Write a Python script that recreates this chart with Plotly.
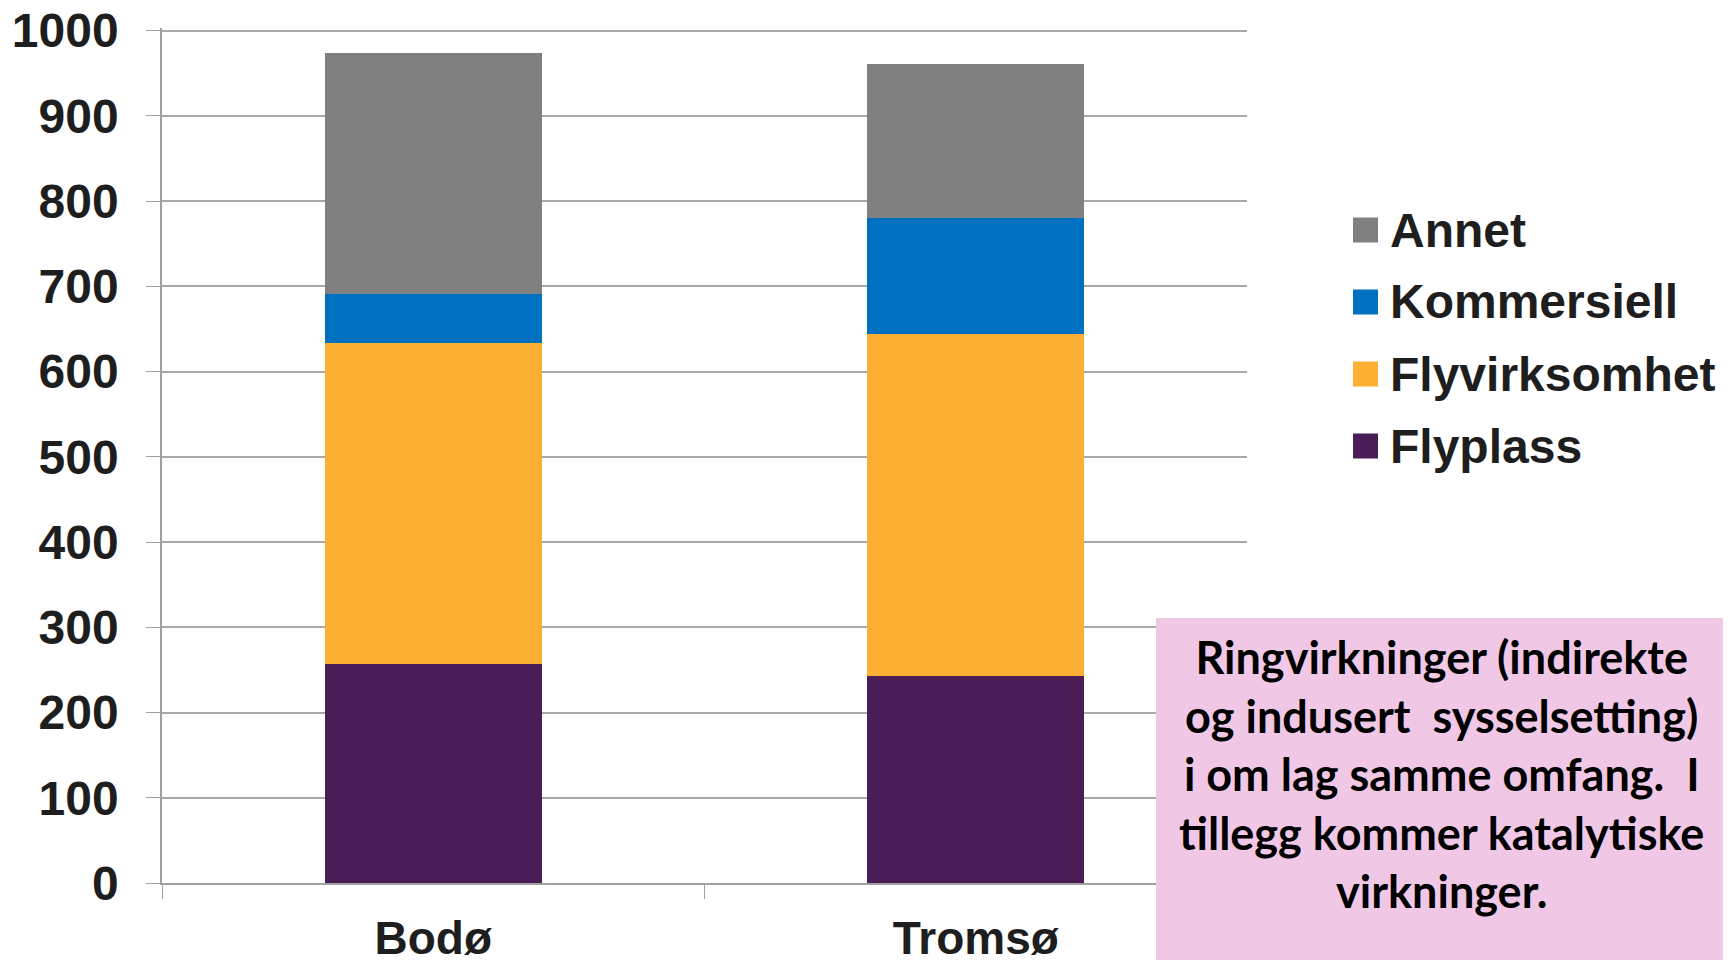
import plotly.graph_objects as go

categories = ["Bodø", "Tromsø"]
flyplass = [257, 243]
flyvirksomhet = [376, 401]
kommersiell = [58, 136]
annet = [283, 181]
y_ticks = [0, 100, 200, 300, 400, 500, 600, 700, 800, 900, 1000]

series = [
    ("Flyplass", flyplass, "#4A1D57"),
    ("Flyvirksomhet", flyvirksomhet, "#FBB034"),
    ("Kommersiell", kommersiell, "#0070C0"),
    ("Annet", annet, "#808080"),
]

OFF = 8  # page body margin
W, H = 1731 - OFF, 960 - OFF
YMAX = 1003
L, T = 162 - OFF, 28 - OFF
R = W - (1247 - OFF)
B = H - (883 - OFF)
PW, PH = W - L - R, H - T - B

def px(x):
    return (x - OFF - L) / PW

def py(y):
    return (H - B - (y - OFF)) / PH

fig = go.Figure()
for name, vals, col in series:
    fig.add_trace(go.Bar(x=categories, y=vals, name=name, showlegend=False,
                         marker=dict(color=col, line=dict(width=0))))

fig.update_layout(
    width=W, height=H,
    barmode="stack", bargap=0.6,
    plot_bgcolor="white", paper_bgcolor="white",
    margin=dict(l=L, r=R, t=T, b=B),
    font=dict(family="Liberation Sans", color="#1e1e1e"),
    xaxis=dict(showline=True, linecolor="#A0A0A0", linewidth=1.5, automargin=False,
               ticks="outside", tickson="boundaries", ticklen=14, tickcolor="#A0A0A0",
               tickvals=categories, ticktext=[f"<b>{c}</b>" for c in categories],
               tickfont=dict(size=46, family="Liberation Sans"), showgrid=False,
               ticklabelstandoff=14, ticklabeloverflow="allow"),
    yaxis=dict(range=[0, YMAX], tickvals=y_ticks, ticktext=[f"<b>{v}</b>" for v in y_ticks],
               showline=True, linecolor="#A0A0A0", automargin=False,
               linewidth=1.5, ticks="outside", ticklen=14, tickcolor="#A0A0A0",
               gridcolor="#A8A8A8", gridwidth=1.5, zeroline=False,
               tickfont=dict(size=48, family="Liberation Sans"), ticklabelstandoff=18,
               ticklabeloverflow="allow"),
)

# legend (drawn manually to match large swatches)
legend_y = [230, 302, 374, 446]
for (name, vals, col), yc in zip(reversed(series), legend_y):
    fig.add_shape(type="rect", xref="paper", yref="paper",
                  x0=px(1353), x1=px(1378), y0=py(yc + 12.5), y1=py(yc - 12.5),
                  fillcolor=col, line=dict(width=0))
    fig.add_annotation(xref="paper", yref="paper", x=px(1388), y=py(yc),
                       xanchor="left", yanchor="middle", showarrow=False,
                       text=f"<b>{name}</b>",
                       font=dict(size=48, family="Liberation Sans", color="#1e1e1e"))

fig.add_shape(type="rect", xref="paper", yref="paper",
              x0=px(1156), x1=px(1760), y0=py(990), y1=py(618),
              fillcolor="#F0C8E6", line=dict(width=0), layer="above")
fig.add_annotation(
    xref="paper", yref="paper",
    x=px(1441), y=py(774),
    xanchor="center", yanchor="middle", showarrow=False, align="center",
    text="<b>Ringvirkninger (indirekte<br>og indusert  sysselsetting)<br>i om lag samme omfang.  I<br>tillegg kommer katalytiske<br>virkninger.</b>",
    font=dict(size=45, family="Lato", color="black"),
)

fig.write_html("out.html")
